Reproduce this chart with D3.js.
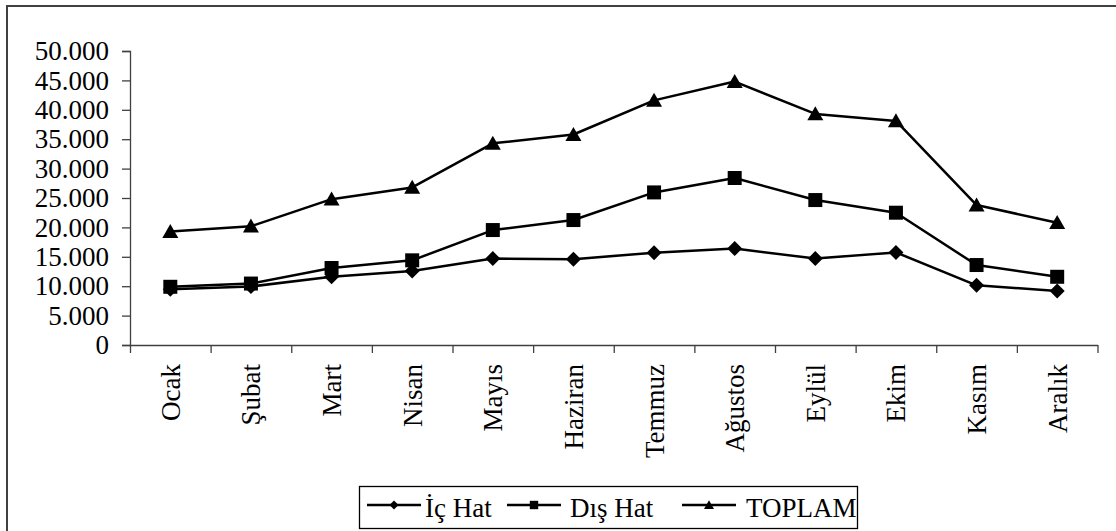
<!DOCTYPE html>
<html>
<head>
<meta charset="utf-8">
<script src="https://cdn.jsdelivr.net/npm/d3@7"></script>
<style>
  html, body { margin: 0; padding: 0; background: #fff; }
  svg { display: block; }
  text { font-family: "Liberation Serif", "Times New Roman", serif; fill: #000; }
</style>
</head>
<body>
<svg id="chart" width="1116" height="531"></svg>
<script>
// Monthly passenger counts by line type
const months = ["Ocak", "Şubat", "Mart", "Nisan", "Mayıs", "Haziran", "Temmuz", "Ağustos", "Eylül", "Ekim", "Kasım", "Aralık"];
const icHat  = [9500, 9950, 11600, 12600, 14700, 14600, 15700, 16400, 14700, 15750, 10150, 9200];
const disHat = [9900, 10450, 13100, 14400, 19550, 21250, 25950, 28400, 24650, 22500, 13600, 11600];
const toplam = [19300, 20200, 24800, 26800, 34300, 35800, 41600, 44800, 39300, 38100, 23800, 20800];
const yTicks = [0, 5000, 10000, 15000, 20000, 25000, 30000, 35000, 40000, 45000, 50000];
const seriesNames = ["İç Hat", "Dış Hat", "TOPLAM"];

// marker shapes, r = half-width in px
const shapes = {
  diamond: r => `M0,${-r}L${r},0L0,${r}L${-r},0Z`,
  square: r => `M${-r},${-r}H${r}V${r}H${-r}Z`,
  triangle: r => `M0,${-r * 0.95}L${r},${r * 0.8}L${-r},${r * 0.8}Z`
};

const series = [
  { name: seriesNames[0], values: icHat,  shape: shapes.diamond,  r: 7.5, lr: 4.5 },
  { name: seriesNames[1], values: disHat, shape: shapes.square,   r: 7,   lr: 4.2 },
  { name: seriesNames[2], values: toplam, shape: shapes.triangle, r: 8,   lr: 5 }
];

const svg = d3.select("#chart");
const axisColor = "#404040";
const fontSize = 27;

// outer chart-area frame (runs past the right and bottom edges)
svg.append("rect")
  .attr("x", 7).attr("y", 6)
  .attr("width", 1130).attr("height", 560)
  .attr("fill", "none").attr("stroke", axisColor).attr("stroke-width", 2);

const plot = { left: 130, right: 1097.5, top: 51, bottom: 345 };

const x = d3.scaleBand().domain(months).range([plot.left, plot.right]).padding(0);
const xEdges = d3.scaleLinear().domain([0, months.length]).range([plot.left, plot.right]);
const y = d3.scaleLinear().domain([0, 50000]).range([plot.bottom, plot.top]);

const tr = d3.formatLocale({ decimal: ",", thousands: ".", grouping: [3], currency: ["", ""] });
const fmt = tr.format(",");

// y axis
const gy = svg.append("g")
  .attr("transform", `translate(${plot.left},0)`)
  .call(d3.axisLeft(y).tickValues(yTicks).tickFormat(fmt).tickSize(8).tickPadding(13));
gy.select(".domain").attr("stroke", axisColor).attr("stroke-width", 1.3);
gy.selectAll(".tick line").attr("stroke", axisColor).attr("stroke-width", 1.3);
gy.selectAll(".tick text")
  .attr("font-size", fontSize).attr("fill", "#000")
  .style("font-family", "'Liberation Serif', serif");

// x axis: ticks at category boundaries
const gx = svg.append("g")
  .attr("transform", `translate(0,${plot.bottom})`)
  .call(d3.axisBottom(xEdges).tickValues(d3.range(months.length + 1)).tickFormat("").tickSize(8).tickSizeOuter(0));
gx.select(".domain").attr("stroke", axisColor).attr("stroke-width", 1.3);
gx.selectAll(".tick line").attr("stroke", axisColor).attr("stroke-width", 1.3);

// rotated month labels
const gxl = svg.append("g")
  .attr("transform", `translate(0,${plot.bottom})`)
  .call(d3.axisBottom(x).tickSize(0).tickPadding(0));
gxl.select(".domain").remove();
gxl.selectAll(".tick text")
  .attr("font-size", fontSize).attr("fill", "#000")
  .style("font-family", "'Liberation Serif', serif")
  .attr("text-anchor", "end")
  .attr("transform", "translate(0,19) rotate(-90)")
  .attr("x", 0).attr("y", 0).attr("dy", "0.35em");

const cx = m => x(m) + x.bandwidth() / 2;

// lines and markers
const line = d3.line().x((d, i) => cx(months[i])).y(d => y(d));
series.forEach(s => {
  svg.append("path")
    .datum(s.values)
    .attr("d", line)
    .attr("fill", "none").attr("stroke", "#000").attr("stroke-width", 2.5)
    .attr("stroke-linejoin", "round");
  svg.append("g").selectAll("path")
    .data(s.values)
    .join("path")
    .attr("transform", (d, i) => `translate(${cx(months[i])},${y(d)})`)
    .attr("d", s.shape(s.r))
    .attr("fill", "#000");
});

// legend
const legend = svg.append("g");
legend.append("rect")
  .attr("x", 359.5).attr("y", 486.5).attr("width", 498).attr("height", 42)
  .attr("fill", "#fff").attr("stroke", "#000").attr("stroke-width", 1.3);
const legendItems = [
  { lineX: 367, textX: 425 },
  { lineX: 507, textX: 570 },
  { lineX: 682, textX: 746 }
];
series.forEach((s, i) => {
  const it = legendItems[i];
  const ly = 505;
  legend.append("line")
    .attr("x1", it.lineX).attr("x2", it.lineX + 54)
    .attr("y1", ly).attr("y2", ly)
    .attr("stroke", "#000").attr("stroke-width", 2.5);
  legend.append("path")
    .attr("transform", `translate(${it.lineX + 27},${ly})`)
    .attr("d", s.shape(s.lr))
    .attr("fill", "#000");
  legend.append("text")
    .attr("x", it.textX).attr("y", 516.5)
    .attr("font-size", fontSize)
    .text(s.name);
});
</script>
</body>
</html>
